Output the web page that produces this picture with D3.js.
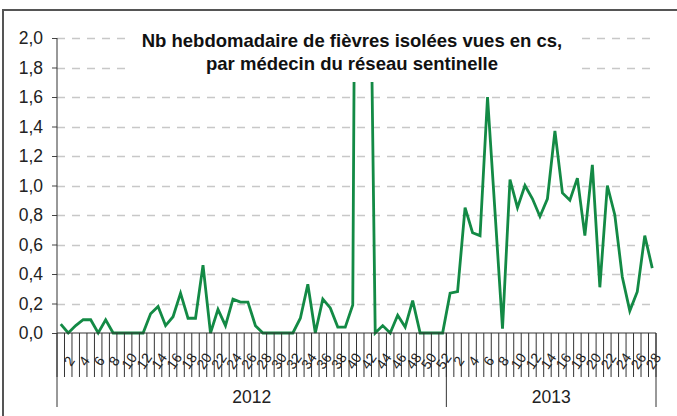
<!DOCTYPE html>
<html><head><meta charset="utf-8">
<script src="https://cdn.jsdelivr.net/npm/d3@7"></script>
<style>body{margin:0;background:#fff;}svg{display:block;}</style>
</head><body>
<script>
const years = ["2012", "2013"];
const weeks2012 = [1,2,3,4,5,6,7,8,9,10,11,12,13,14,15,16,17,18,19,20,21,22,23,24,25,26,27,28,29,30,31,32,33,34,35,36,37,38,39,40,41,42,43,44,45,46,47,48,49,50,51,52];
const weeks2013 = [1,2,3,4,5,6,7,8,9,10,11,12,13,14,15,16,17,18,19,20,21,22,23,24,25,26,27,28];
const values2012 = [0.06,0.0,0.05,0.09,0.09,0.0,0.09,0.0,0.0,0.0,0.0,0.0,0.13,0.18,0.05,0.11,0.27,0.10,0.10,0.46,0.0,0.16,0.05,0.23,0.21,0.21,0.05,0.0,0.0,0.0,0.0,0.0,0.10,0.33,0.0,0.23,0.17,0.04,0.04,0.19,9.0,4.0,0.0,0.05,0.0,0.12,0.04,0.22,0.0,0.0,0.0,0.0];
const values2013 = [0.27,0.28,0.85,0.68,0.66,1.60,0.82,0.03,1.04,0.85,1.00,0.91,0.79,0.91,1.37,0.95,0.90,1.05,0.66,1.14,0.31,1.00,0.80,0.38,0.15,0.28,0.66,0.44];
const yTicks = [0,0.2,0.4,0.6,0.8,1.0,1.2,1.4,1.6,1.8,2.0];
const titleLines = ["Nb hebdomadaire de fièvres isolées vues en cs,", "par médecin du réseau sentinelle"];

const W = 677, H = 416;
const L = 57, R = 656, T = 38, B = 333;
const FONT = "Liberation Sans, Arial, sans-serif";

const data = [];
weeks2012.forEach((w,i)=>data.push({key:"2012-"+w, year:"2012", week:w, v:values2012[i]}));
weeks2013.forEach((w,i)=>data.push({key:"2013-"+w, year:"2013", week:w, v:values2013[i]}));

const svg = d3.select("body").append("svg").attr("width",W).attr("height",H);
const x = d3.scaleBand().domain(data.map(d=>d.key)).range([L,R]).padding(0);
const y = d3.scaleLinear().domain([0,2]).range([B,T]);
const fmt = v => d3.format(".1f")(v).replace(".", ",");

// frame
svg.append("rect").attr("x",3).attr("y",10).attr("width",720).attr("height",500)
  .attr("fill","none").attr("stroke","#555").attr("stroke-width",2);

// gridlines
svg.append("g").selectAll("line").data(yTicks.filter(t=>t>0)).join("line")
  .attr("x1",L).attr("x2",650).attr("y1",d=>Math.round(y(d))+0.5).attr("y2",d=>Math.round(y(d))+0.5)
  .attr("stroke","#c8c8c8").attr("stroke-width",1.3).attr("stroke-dasharray","8,7");

// y axis
const ya = svg.append("g").attr("transform",`translate(${L},0)`)
  .call(d3.axisLeft(y).tickValues(yTicks).tickFormat(fmt).tickSize(5).tickPadding(9));
ya.select(".domain").remove();
ya.selectAll(".tick line").attr("stroke","#444");
ya.selectAll(".tick text").attr("font-family",FONT).attr("font-size",17.5).attr("fill","#222");
svg.append("line").attr("x1",L).attr("x2",L).attr("y1",T).attr("y2",407).attr("stroke","#333").attr("stroke-width",1);

// clip
svg.append("clipPath").attr("id","clip").append("rect").attr("x",L).attr("y",T).attr("width",R-L).attr("height",B-T+3);

// line
const line = d3.line().x(d=>x(d.key)+x.bandwidth()/2).y(d=>y(d.v));
svg.append("path").datum(data).attr("clip-path","url(#clip)")
  .attr("d",line).attr("fill","none").attr("stroke","#138a45").attr("stroke-width",2.8).attr("stroke-linejoin","miter");

// x axis
svg.append("line").attr("x1",L).attr("x2",R).attr("y1",B).attr("y2",B).attr("stroke","#333");
const bounds = data.map(d=>x(d.key)).concat([R]);
svg.append("g").selectAll("line").data(bounds).join("line")
  .attr("x1",d=>d).attr("x2",d=>d).attr("y1",B).attr("y2",377).attr("stroke","#333").attr("stroke-width",1);
svg.append("g").selectAll("text").data(data.filter(d=>d.week%2===0)).join("text")
  .attr("transform",d=>`translate(${x(d.key)+x.bandwidth()/2+1},361) rotate(-55)`)
  .attr("text-anchor","middle").attr("dominant-baseline","central")
  .attr("font-family",FONT).attr("font-size",14).attr("fill","#222")
  .text(d=>d.week);

// year groups
years.forEach(yr=>{
  const ds = data.filter(d=>d.year===yr);
  const x0 = x(ds[0].key), x1 = x(ds[ds.length-1].key)+x.bandwidth();
  svg.append("line").attr("x1",x1).attr("x2",x1).attr("y1",B).attr("y2",407).attr("stroke","#333");
  svg.append("text").attr("x",(x0+x1)/2).attr("y",403).attr("text-anchor","middle")
    .attr("font-family",FONT).attr("font-size",17.5).attr("fill","#222").text(yr);
});

// title
svg.append("rect").attr("x",130).attr("y",25).attr("width",445).attr("height",57).attr("fill","#fff");
titleLines.forEach((t,i)=>{
  svg.append("text").attr("x",352).attr("y",47+i*23).attr("text-anchor","middle")
    .attr("font-family",FONT).attr("font-weight","bold").attr("font-size",18.5).attr("fill","#111").text(t);
});
</script>
</body></html>
